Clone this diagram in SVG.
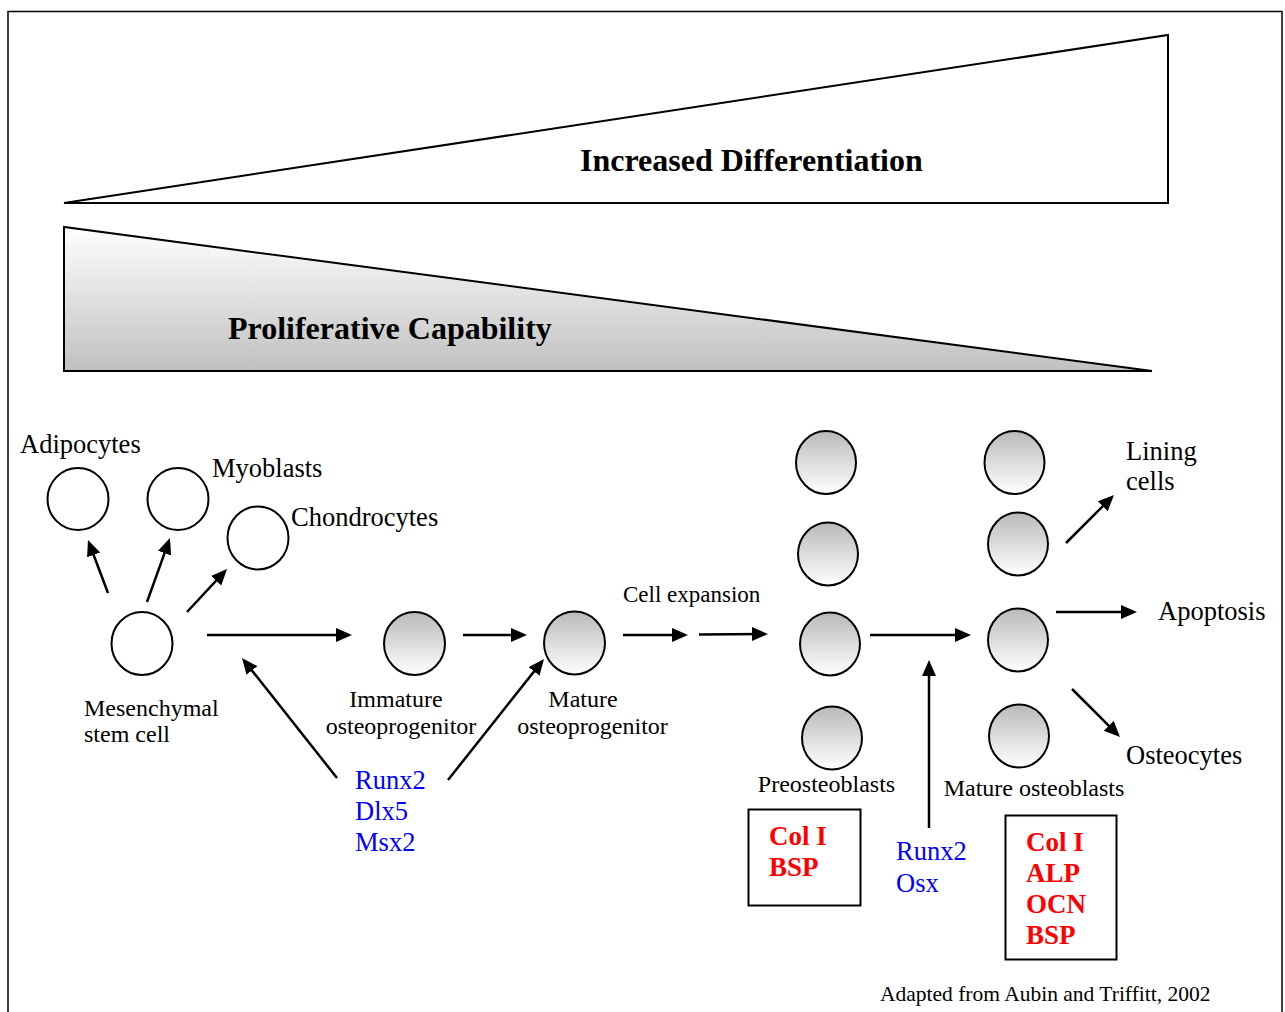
<svg xmlns="http://www.w3.org/2000/svg" width="1285" height="1012" viewBox="0 0 1285 1012">
<defs>
<linearGradient id="cellGrad" x1="0" y1="0" x2="0" y2="1">
<stop offset="0" stop-color="#b9b9b9"/>
<stop offset="1" stop-color="#ffffff"/>
</linearGradient>
<linearGradient id="triGrad" x1="0" y1="0" x2="0" y2="1">
<stop offset="0" stop-color="#ffffff"/>
<stop offset="1" stop-color="#c0c0c0"/>
</linearGradient>
<marker id="ah" markerUnits="userSpaceOnUse" markerWidth="17" markerHeight="15" refX="12" refY="7" orient="auto">
<path d="M0,0 L16,7 L0,14 z" fill="#000"/>
</marker>
</defs>
<style>
.frame{fill:#fff;stroke:#000;stroke-width:1.5}
.tri{stroke:#000;stroke-width:2;stroke-linejoin:miter}
.plain{fill:#fff;stroke:#000;stroke-width:2}
.cell{fill:url(#cellGrad);stroke:#000;stroke-width:2}
.box{fill:#fff;stroke:#000;stroke-width:2}
.arr{stroke:#000;stroke-width:2.5;fill:none;marker-end:url(#ah)}
text{font-family:"Liberation Serif","Times New Roman",serif;fill:#000}
.lbl{font-size:26.5px}
.stage{font-size:24px}
.sm{font-size:23px}
.note{font-size:21.5px}
.title{font-size:32px;font-weight:bold}
.blue{font-size:26.5px;fill:#0000ff}
.red{font-size:27px;font-weight:bold;fill:#ff0000}
</style>
<rect class="frame" x="8" y="11.5" width="1274" height="1010"/>
<g id="differentiation">
<path class="tri" d="M64,203 L1168,35 L1168,203 Z" fill="#fff"/>
<text class="title" x="580" y="171">Increased Differentiation</text>
</g>
<g id="proliferation">
<path class="tri" d="M64,227 L64,371 L1152,371 Z" fill="url(#triGrad)"/>
<text class="title" x="228" y="339">Proliferative Capability</text>
</g>
<g id="adipocytes">
<ellipse class="plain" cx="78" cy="499" rx="30.5" ry="31"/>
<text class="lbl" x="20" y="453">Adipocytes</text>
</g>
<g id="myoblasts">
<ellipse class="plain" cx="178" cy="499" rx="30.5" ry="31"/>
<text class="lbl" x="212" y="477">Myoblasts</text>
</g>
<g id="chondrocytes">
<ellipse class="plain" cx="258" cy="538" rx="30.5" ry="31.5"/>
<text class="lbl" x="291" y="526">Chondrocytes</text>
</g>
<g id="msc">
<ellipse class="plain" cx="142" cy="643.5" rx="30.5" ry="31.5"/>
<text class="stage" x="84" y="716">Mesenchymal</text>
<text class="stage" x="84" y="742">stem cell</text>
</g>
<g id="immature">
<ellipse class="cell" cx="414.5" cy="643.5" rx="30.5" ry="31.5"/>
<text class="stage" x="396" y="707" text-anchor="middle">Immature</text>
<text class="stage" x="401" y="734" text-anchor="middle">osteoprogenitor</text>
</g>
<g id="mature-osteoprogenitor">
<ellipse class="cell" cx="574.5" cy="643" rx="30.5" ry="31.5"/>
<text class="stage" x="583" y="707" text-anchor="middle">Mature</text>
<text class="stage" x="592.5" y="734" text-anchor="middle">osteoprogenitor</text>
</g>
<g id="cell-expansion">
<text class="sm" x="623" y="602">Cell expansion</text>
</g>
<g id="factors-1">
<text class="blue" x="355" y="789">Runx2</text>
<text class="blue" x="355" y="820">Dlx5</text>
<text class="blue" x="355" y="851">Msx2</text>
</g>
<g id="preosteoblasts">
<ellipse class="cell" cx="826" cy="462.5" rx="30" ry="31.5"/>
<ellipse class="cell" cx="828" cy="554" rx="30" ry="31.5"/>
<ellipse class="cell" cx="830" cy="644" rx="30" ry="31.5"/>
<ellipse class="cell" cx="832" cy="738" rx="30" ry="31.5"/>
<text class="stage" x="826.5" y="792" text-anchor="middle">Preosteoblasts</text>
</g>
<g id="preosteoblast-markers">
<rect class="box" x="748.5" y="809.5" width="112" height="96"/>
<text class="red" x="769" y="845">Col I</text>
<text class="red" x="769" y="876">BSP</text>
</g>
<g id="mature-osteoblasts">
<ellipse class="cell" cx="1014.5" cy="462.5" rx="30" ry="31.5"/>
<ellipse class="cell" cx="1018" cy="544" rx="30" ry="31.5"/>
<ellipse class="cell" cx="1018" cy="640" rx="30" ry="31.5"/>
<ellipse class="cell" cx="1019" cy="736" rx="30" ry="31.5"/>
<text class="stage" x="1034" y="796" text-anchor="middle">Mature osteoblasts</text>
</g>
<g id="mature-osteoblast-markers">
<rect class="box" x="1005.5" y="815.5" width="111" height="144"/>
<text class="red" x="1026" y="851">Col I</text>
<text class="red" x="1026" y="882">ALP</text>
<text class="red" x="1026" y="913">OCN</text>
<text class="red" x="1026" y="944">BSP</text>
</g>
<g id="factors-2">
<text class="blue" x="896" y="860">Runx2</text>
<text class="blue" x="896" y="892">Osx</text>
</g>
<g id="lining-cells">
<text class="lbl" x="1126" y="460">Lining</text>
<text class="lbl" x="1126" y="490">cells</text>
</g>
<g id="apoptosis">
<text class="lbl" x="1158" y="620">Apoptosis</text>
</g>
<g id="osteocytes">
<text class="lbl" x="1126" y="764">Osteocytes</text>
</g>
<g id="connectors">
<line class="arr" x1="108" y1="593" x2="89.4" y2="543.7"/>
<line class="arr" x1="147" y1="602" x2="168.6" y2="541.8"/>
<line class="arr" x1="187" y1="612" x2="224.3" y2="571.9"/>
<line class="arr" x1="207" y1="635" x2="348" y2="635"/>
<line class="arr" x1="337" y1="778" x2="244.5" y2="661.1"/>
<line class="arr" x1="448" y1="780" x2="541.5" y2="662.1"/>
<line class="arr" x1="463" y1="635" x2="523" y2="635"/>
<line class="arr" x1="623" y1="635" x2="684" y2="635"/>
<line class="arr" x1="699" y1="634.5" x2="764" y2="634"/>
<line class="arr" x1="870" y1="635" x2="967" y2="635"/>
<line class="arr" x1="929" y1="828" x2="929" y2="664"/>
<line class="arr" x1="1066" y1="543" x2="1111.2" y2="497.8"/>
<line class="arr" x1="1056" y1="612" x2="1133" y2="612"/>
<line class="arr" x1="1072" y1="689" x2="1117.2" y2="734.2"/>
</g>
<text class="note" x="880" y="1001">Adapted from Aubin and Triffitt, 2002</text>
</svg>
